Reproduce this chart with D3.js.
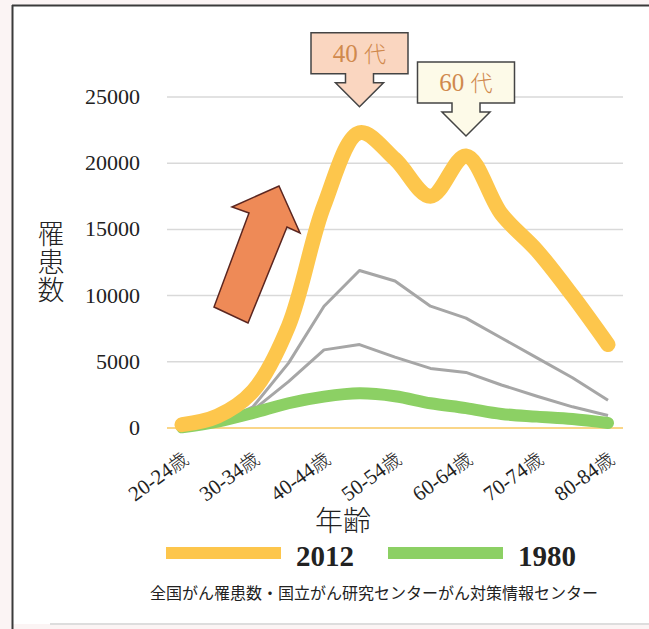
<!DOCTYPE html>
<html lang="ja">
<head>
  <meta charset="UTF-8">
  <title>罹患数</title>
  <script src="https://d3js.org/d3.v7.min.js"></script>
  <style>
    body { margin: 0; background-color: #fbf4f4; }
    svg { display: block; }
  </style>
</head>
<body>
<svg id="chart"></svg>
<script>
// data
const ages = ["20-24歳","25-29歳","30-34歳","35-39歳","40-44歳","45-49歳","50-54歳",
              "55-59歳","60-64歳","65-69歳","70-74歳","75-79歳","80-84歳"];
const labelAges = ["20-24歳","30-34歳","40-44歳","50-54歳","60-64歳","70-74歳","80-84歳"];
const y2012 = [250, 900, 2800, 7700, 16800, 22300, 20300, 17500, 20550, 16150, 13400, 10000, 6300];
const y1980 = [50, 480, 1130, 1870, 2370, 2620, 2400, 1870, 1500, 1060, 860, 680, 380];
const greyA = [100, 350, 1600, 4900, 9200, 11900, 11100, 9200, 8300, 6800, 5300, 3800, 2100];
const greyB = [80, 250, 1350, 3500, 5900, 6300, 5350, 4500, 4200, 3250, 2400, 1600, 950];
const yTicks = [0, 5000, 10000, 15000, 20000, 25000];
const legendItems = ["2012", "1980"];
const callouts = [{num: "40", kanji: "代", age: "45-49歳", value: 22300, fill: "#fad6c0"},
                  {num: "60", kanji: "代", age: "60-64歳", value: 20550, fill: "#fdfae8"}];

const SERIF = "'Liberation Serif', 'DejaVu Serif', serif";
const JP = "'Noto Sans CJK JP', sans-serif";
const W = 649, H = 629;
const svg = d3.select("#chart").attr("width", W).attr("height", H);

// frame
svg.append("rect").attr("x", 12).attr("y", 5).attr("width", W - 12).attr("height", 619).attr("fill", "#fff");
svg.append("line").attr("x1", 12).attr("x2", W).attr("y1", 5.5).attr("y2", 5.5).attr("stroke", "#3a3a3a").attr("stroke-width", 2);
svg.append("line").attr("x1", 12.5).attr("x2", 12.5).attr("y1", 5).attr("y2", H).attr("stroke", "#3a3a3a").attr("stroke-width", 2);
svg.append("line").attr("x1", 50).attr("x2", W).attr("y1", 624).attr("y2", 624).attr("stroke", "#ddd").attr("stroke-width", 2);

const x = d3.scalePoint().domain(ages).range([182, 608]);
const y = d3.scaleLinear().domain([0, 25000]).range([428, 97]);
const gridL = 167, gridR = 623;

// gridlines + y labels
svg.selectAll(".grid").data(yTicks.filter(d => d > 0)).join("line")
  .attr("x1", gridL).attr("x2", gridR)
  .attr("y1", d => y(d)).attr("y2", d => y(d))
  .attr("stroke", "#d9d9d9").attr("stroke-width", 1.5);
svg.append("line").attr("x1", gridL).attr("x2", gridR).attr("y1", y(0)).attr("y2", y(0))
  .attr("stroke", "#f8c860").attr("stroke-width", 1.5);

svg.selectAll(".ytick").data(yTicks).join("text")
  .attr("font-family", SERIF).attr("fill", "#222")
  .attr("x", 140).attr("y", d => y(d) + 7)
  .attr("text-anchor", "end").attr("font-size", 22)
  .text(d => d);

// y title (vertical, one text)
svg.append("text")
  .attr("font-family", JP).attr("fill", "#222").attr("font-weight", 300)
  .attr("x", 51).attr("y", 220)
  .attr("font-size", 27)
  .style("writing-mode", "vertical-rl").style("letter-spacing", "1px")
  .text("罹患数");

// x labels: digits in serif, 歳 in CJK font
const xl = svg.selectAll(".xtick").data(labelAges).join("text")
  .attr("font-size", 21).attr("fill", "#222")
  .attr("text-anchor", "end")
  .attr("transform", d => `translate(${x(d) + 8},462) rotate(-36)`);
xl.append("tspan").attr("font-family", SERIF).text(d => d.slice(0, -1));
xl.append("tspan").attr("font-family", JP).attr("font-weight", 300).attr("font-size", 19).text(d => d.slice(-1));

svg.append("text").attr("font-family", JP).attr("fill", "#222").attr("font-weight", 300)
  .attr("x", 343).attr("y", 531).attr("text-anchor", "middle").attr("font-size", 28)
  .text("年齢");

// lines
const smooth = d3.line().x((d, i) => x(ages[i])).y(d => y(d)).curve(d3.curveCatmullRom.alpha(0.5));
const straight = d3.line().x((d, i) => x(ages[i])).y(d => y(d));

svg.append("path").datum(greyA).attr("d", straight).attr("fill", "none")
  .attr("stroke", "#a6a6a6").attr("stroke-width", 3).attr("stroke-linejoin", "round");
svg.append("path").datum(greyB).attr("d", straight).attr("fill", "none")
  .attr("stroke", "#a6a6a6").attr("stroke-width", 3).attr("stroke-linejoin", "round");
svg.append("path").datum(y1980).attr("d", smooth).attr("fill", "none")
  .attr("stroke", "#8cd064").attr("stroke-width", 12).attr("stroke-linecap", "round");
svg.append("path").datum(y2012).attr("d", smooth).attr("fill", "none")
  .attr("stroke", "#fdc64c").attr("stroke-width", 15).attr("stroke-linecap", "round").attr("stroke-linejoin", "round");

// big rising arrow
const bigArrow = [[279,186],[300,233],[287,227],[248,323],[214,307],[249,213],[232,207]];
svg.append("polygon").attr("points", bigArrow.join(" "))
  .attr("fill", "#ee8a57").attr("stroke", "#5b2620").attr("stroke-width", 1.5).attr("stroke-linejoin", "miter");

// callouts
const offsets = [26, 20];
callouts.forEach((c, k) => {
  const tx = x(c.age), ty = y(c.value) - offsets[k];
  const bw = 97, bh = 41, sh = 9, shw = 14, hw = 24, hh = 24;
  const top = ty - hh - sh - bh, bot = ty - hh - sh;
  const pts = [[tx - bw/2, top], [tx + bw/2, top], [tx + bw/2, bot], [tx + shw, bot], [tx + shw, bot + sh],
               [tx + hw, bot + sh], [tx, ty], [tx - hw, bot + sh], [tx - shw, bot + sh], [tx - shw, bot], [tx - bw/2, bot]];
  svg.append("polygon").attr("points", pts.join(" "))
    .attr("fill", c.fill).attr("stroke", "#444").attr("stroke-width", 1.5);
  const t = svg.append("text").attr("x", tx).attr("y", top + 29)
    .attr("text-anchor", "middle").attr("font-size", 25).attr("fill", "#d0894d");
  t.append("tspan").attr("font-family", SERIF).text(c.num + " ");
  t.append("tspan").attr("font-family", JP).attr("font-weight", 300).attr("font-size", 22).text(c.kanji);
});

// legend
const legColors = ["#fdc64c", "#8cd064"];
const legX = [166, 388];
legendItems.forEach((d, i) => {
  svg.append("line").attr("x1", legX[i]).attr("x2", legX[i] + 115).attr("y1", 553).attr("y2", 553)
    .attr("stroke", legColors[i]).attr("stroke-width", 12);
  svg.append("text").attr("font-family", SERIF).attr("fill", "#222").attr("font-weight", "bold").attr("font-size", 29)
    .attr("x", legX[i] + 130).attr("y", 566).text(d);
});

svg.append("text").attr("font-family", JP).attr("fill", "#222").attr("font-size", 16)
  .attr("x", 374).attr("y", 599).attr("text-anchor", "middle")
  .text("全国がん罹患数・国立がん研究センターがん対策情報センター");
</script>
</body>
</html>
